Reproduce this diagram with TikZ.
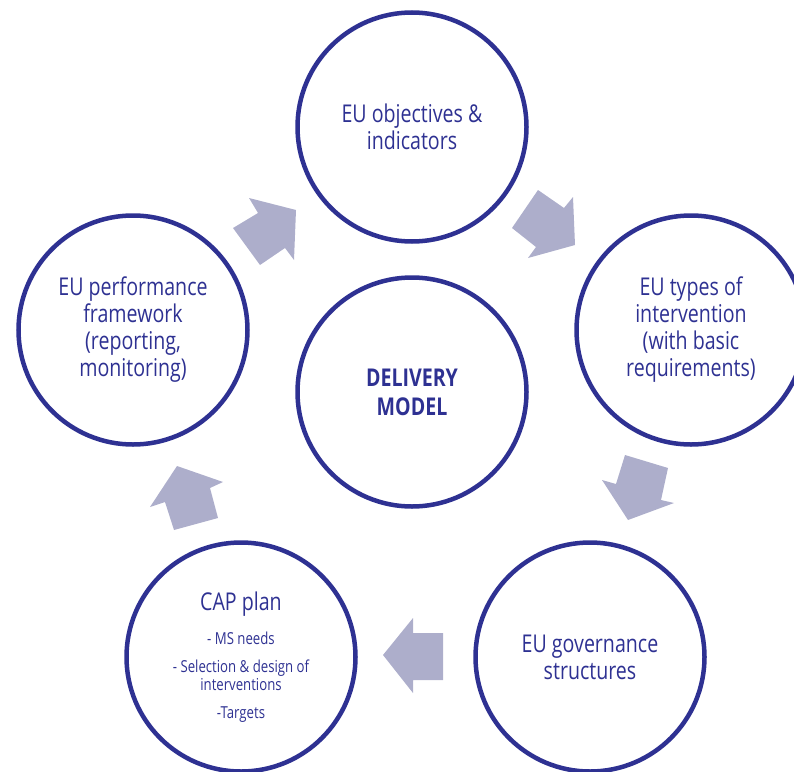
\documentclass[tikz,border=0pt]{standalone}
\usepackage{fontspec}
\setmainfont{Open Sans}[FakeStretch=0.8]
\definecolor{navy}{RGB}{46,49,146}
\definecolor{arrowgrey}{RGB}{173,174,203}
\newcommand{\fs}[2]{\fontsize{#1}{#2}\selectfont}
\begin{document}
\begin{tikzpicture}[x=1pt, y=-1pt,
        stage/.style={circle, draw=navy, line width=4.5pt, minimum size=229pt, inner sep=0pt,
            align=center, text=navy, font=\fs{24.5}{27}},
        blockarrow/.style={fill=arrowgrey}]
    \useasboundingbox (0,0) rectangle (794,771);
    \node[stage] (objectives) at (412,127) {EU objectives \&\\indicators};
    \node[stage] (types) at (691,330) {EU types of\\intervention\\(with basic\\requirements)};
    \node[stage] (governance) at (590,657) {EU governance\\structures};
    \node[stage, font=\fs{16.5}{18}] (capplan) at (241,657)
        {\fs{24.5}{27}CAP plan\\[14pt]- MS needs\\[10pt]- Selection \& design of\\interventions\\[10pt]-Targets};
    \node[stage] (performance) at (133,330) {EU performance\\framework\\(reporting,\\monitoring)};
    \node[stage, font=\fs{24.5}{29}\bfseries] (delivery) at (412,392) {DELIVERY\\MODEL};
    \fill[blockarrow] (249,198) -- (296,210) -- (294,260) -- (285,248) -- (260,265) -- (233,228) -- (258,213) -- cycle;
    \fill[blockarrow] (538,190) -- (564,208) -- (573,197) -- (575,245) -- (528,258) -- (536,247) -- (512,228) -- cycle;
    \fill[blockarrow] (625,455) -- (668,468) -- (661,500) -- (674,503) -- (628,520) -- (602,480) -- (616,484) -- cycle;
    \fill[blockarrow] (413,618) -- (413,633) -- (443,633) -- (443,680) -- (413,680) -- (413,693) -- (383,655) -- cycle;
    \fill[blockarrow] (177,466) -- (223,482) -- (210,488) -- (218,518) -- (174,530) -- (165,502) -- (150,507) -- cycle;
\end{tikzpicture}
\end{document}
